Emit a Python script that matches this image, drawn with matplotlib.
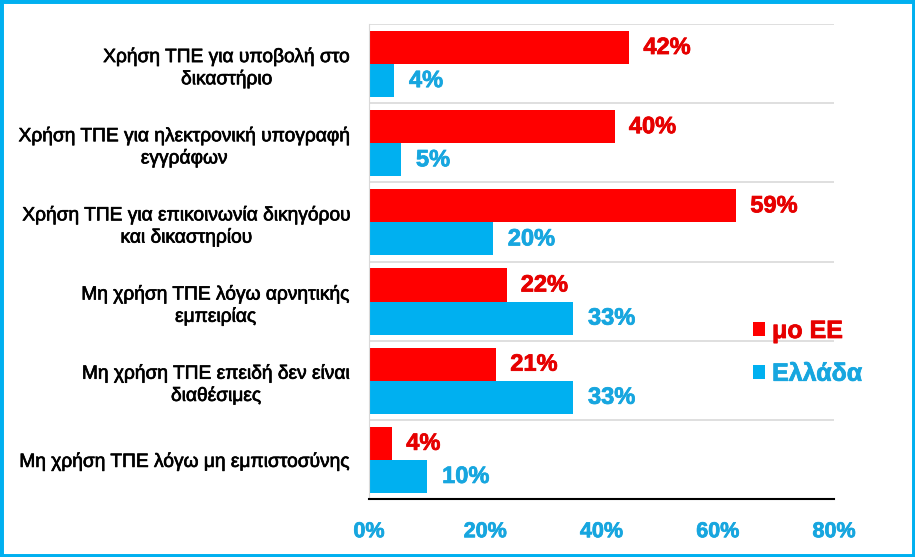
import matplotlib.pyplot as plt
import matplotlib.patheffects as pe
from matplotlib.patches import Rectangle
from matplotlib.font_manager import FontProperties

categories = [
    "Χρήση ΤΠΕ για υποβολή στο\nδικαστήριο",
    "Χρήση ΤΠΕ για ηλεκτρονική υπογραφή\nεγγράφων",
    "Χρήση ΤΠΕ για επικοινωνία δικηγόρου\nκαι δικαστηρίου",
    "Μη χρήση ΤΠΕ λόγω αρνητικής\nεμπειρίας",
    "Μη χρήση ΤΠΕ επειδή δεν είναι\nδιαθέσιμες",
    "Μη χρήση ΤΠΕ λόγω μη εμπιστοσύνης",
]
# bar lengths as drawn in the picture, and the data labels printed next to them
eu_bars = [44.8, 42.3, 63.2, 23.7, 21.9, 4.0]
gr_bars = [4.3, 5.5, 21.3, 35.1, 35.1, 10.0]
eu_labels = ["42%", "40%", "59%", "22%", "21%", "4%"]
gr_labels = ["4%", "5%", "20%", "33%", "33%", "10%"]
xticks = [0, 20, 40, 60, 80]

RED = "#FF0000"
RED_TXT = "#E60000"
BLUE = "#00B0F0"
BLUE_TXT = "#17A6DF"

plt.rcParams["font.family"] = ["Liberation Sans", "DejaVu Sans"]


def bold(size):
    return FontProperties(family="Liberation Sans", weight="bold", size=size)


def thicken(text, color, w=0.55):
    text.set_path_effects([pe.withStroke(linewidth=w, foreground=color)])


fig = plt.figure(figsize=(9.15, 5.57), dpi=100)
ax = fig.add_axes([369 / 915, 1 - 499 / 557, 465 / 915, 475 / 557])

h = 0.418
centers = [i + 0.506 for i in range(len(categories))]
ax.barh([c - h / 2 for c in centers], eu_bars, height=h, color=RED, label="μο ΕΕ")
ax.barh([c + h / 2 for c in centers], gr_bars, height=h, color=BLUE, label="Ελλάδα")

for c, v, t in zip(centers, eu_bars, eu_labels):
    a = ax.annotate(t, (v, c - h / 2), xytext=(14, 0), textcoords="offset pixels",
                    va="center", ha="left", color=RED_TXT, fontproperties=bold(17))
    thicken(a, RED_TXT)
for c, v, t in zip(centers, gr_bars, gr_labels):
    a = ax.annotate(t, (v, c + h / 2), xytext=(15, 0), textcoords="offset pixels",
                    va="center", ha="left", color=BLUE_TXT, fontproperties=bold(17))
    thicken(a, BLUE_TXT)

ax.set_xlim(0, 80)
ax.set_ylim(len(categories), 0)
ax.set_xticks(xticks)
ax.set_xticklabels([f"{x}%" for x in xticks], color=BLUE_TXT, fontproperties=bold(15.5))
for lbl in ax.get_xticklabels():
    thicken(lbl, BLUE_TXT)
ax.set_yticks(centers)
ax.set_yticklabels(categories, fontsize=13.8, multialignment="center", linespacing=1.3)
for lbl in ax.get_yticklabels():
    thicken(lbl, "black", 0.5)
ax.tick_params(axis="both", length=0)
ax.tick_params(axis="x", pad=16)
ax.tick_params(axis="y", pad=14)

# separators between categories
ax.set_yticks(range(len(categories) + 1), minor=True)
ax.grid(axis="y", which="minor", color="#D9D9D9", linewidth=1.2)
ax.tick_params(axis="y", which="minor", length=0)
ax.set_axisbelow(True)

for s in ["top", "right"]:
    ax.spines[s].set_visible(False)
ax.spines["left"].set_color("#D9D9D9")
ax.spines["bottom"].set_color("black")
ax.spines["bottom"].set_linewidth(1.5)

leg = ax.legend(loc="upper left", bbox_to_anchor=(0.805, 0.40), frameon=False,
                prop=bold(18), handlelength=0.45, handleheight=0.45, handletextpad=0.3,
                labelspacing=0.75, borderaxespad=0)
for txt, col in zip(leg.get_texts(), [RED_TXT, BLUE_TXT]):
    txt.set_color(col)
    thicken(txt, col)

fig.patches.append(Rectangle((0, 0), 1, 1, transform=fig.transFigure, fill=False,
                             edgecolor=BLUE, linewidth=5))

fig.savefig("out.png", dpi=100)
